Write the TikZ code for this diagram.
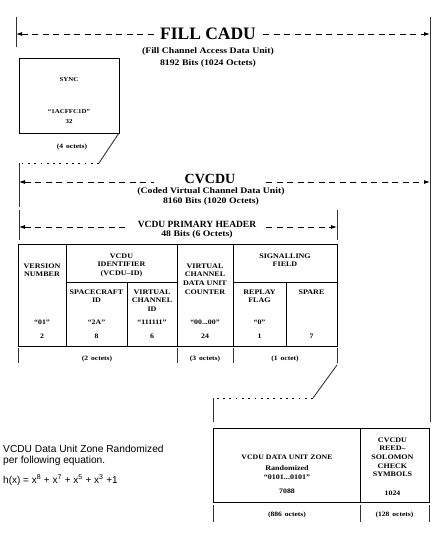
\documentclass[tikz,border=0pt]{standalone}
\usepackage{fontspec}
\setmainfont{Liberation Serif}
\newfontfamily\widefont[FakeStretch=1.15]{Liberation Serif}
\newfontfamily\arialfont{Liberation Sans}
\usetikzlibrary{arrows.meta}
\newcommand{\fsz}[1]{\fontsize{#1}{#1}\selectfont}
\newcommand{\octs}[1]{(#1\hspace{0.45em}octets)}
\begin{document}
\begin{tikzpicture}[x=1pt,y=-1pt,
  txt/.style={font=\widefont\bfseries\fsz{6.8}, align=center, inner sep=0pt, text depth=0pt},
  cell/.style={txt, font=\widefont\bfseries\fontsize{7}{8.6}\selectfont},
  octl/.style={txt, font=\widefont\bfseries\fsz{6.6}},
  sub/.style={txt, font=\widefont\bfseries\fsz{8.5}},
  box/.style={draw, line width=0.9pt},
  bar/.style={line width=0.9pt, black!80},
  dimline/.style={dash pattern=on 6pt off 4.5pt, line width=0.8pt,
    {Latex[length=6pt,width=4pt]}-{Latex[length=6pt,width=4pt]}},
  dotline/.style={line width=0.8pt, dash pattern=on 1.8pt off 4.5pt},
  gap/.style={fill=white, inner ysep=1pt}
]
\useasboundingbox (0,0) rectangle (437,536);

% ---------- FILL CADU ----------
\coordinate (fcL) at (16,34);
\coordinate (fcR) at (430,34);
\draw[bar] (16,17) -- (16,47);
\draw[bar] (430,17) -- (430,422);
\draw[dimline] (fcL) -- (fcR);
\node[gap, inner xsep=5pt, font=\fsz{17.5}\bfseries] (fillcadu) at (208,34) {FILL CADU};
\node[sub] (fillsub) at (208,51) {(Fill Channel Access Data Unit)};
\node[sub] (fillbits) at (208,63) {8192 Bits (1024 Octets)};

% ---------- SYNC ----------
\draw[box] (19,58) rectangle (119,133);
\node[txt, font=\widefont\bfseries\fsz{6}] (sync) at (69,80) {SYNC};
\node[txt, font=\widefont\bfseries\fsz{6}] (syncval) at (69,112) {“1ACFFC1D”};
\node[txt, font=\widefont\bfseries\fsz{6}] (syncbits) at (69,122) {32};
\node[octl] (syncoct) at (72,146) {\octs{4}};
\coordinate (s1) at (119,133);
\coordinate (s2) at (99,163);
\coordinate (s3) at (21,163);
\draw[bar] (s1) -- (s2);
\draw[dotline] (s2) -- (s3);

% ---------- CVCDU ----------
\draw[bar] (19,163) -- (19,207);
\coordinate (cvL) at (19,182);
\coordinate (cvR) at (430,182);
\draw[dimline] (cvL) -- (cvR);
\node[gap, font=\fsz{14}\bfseries, inner xsep=31pt] (cvcdu) at (210,179) {CVCDU};
\node[sub] (cvsub) at (211,191) {(Coded Virtual Channel Data Unit)};
\node[sub] (cvbits) at (211,201) {8160 Bits (1020 Octets)};

% ---------- VCDU PRIMARY HEADER ----------
\draw[bar] (19,210) -- (19,240);
\draw[bar] (337,210) -- (337,240);
\coordinate (phL) at (19,227);
\coordinate (phR) at (337,227);
\draw[dimline] (phL) -- (phR);
\node[gap, inner xsep=8pt, font=\fsz{9.5}\bfseries] (phdr) at (197,224) {VCDU PRIMARY HEADER};
\node[sub] (phbits) at (197,234) {48 Bits (6 Octets)};

% ---------- table ----------
\draw[box] (18,244) rectangle (337,346);
\draw[box] (66,244) -- (66,346);
\draw[box] (177,244) -- (177,346);
\draw[box] (233,244) -- (233,346);
\draw[box] (66,282) -- (177,282);
\draw[box] (233,282) -- (337,282);
\draw[box] (127,282) -- (127,346);
\draw[box] (286,282) -- (286,346);

\node[cell, anchor=north] (ver) at (42,263.5) {VERSION\\NUMBER};
\node[cell, anchor=north] (vcid) at (121.5,253.5) {VCDU\\IDENTIFIER\\(VCDU–ID)};
\node[cell, anchor=north] (scid) at (96.5,289.5) {SPACECRAFT\\ID};
\node[cell, anchor=north] (vchid) at (152,289.5) {VIRTUAL\\CHANNEL\\ID};
\node[cell, anchor=north] (vcdc) at (205,263.5) {VIRTUAL\\CHANNEL\\DATA UNIT\\COUNTER};
\node[cell, anchor=north] (sig) at (285,253.5) {SIGNALLING\\FIELD};
\node[cell, anchor=north] (rf) at (259.5,289.5) {REPLAY\\FLAG};
\node[cell, anchor=north] (spare) at (311.5,289.5) {SPARE};

\node[txt] (v1) at (42,322) {“01”};
\node[txt] (v2) at (96.5,322) {“2A”};
\node[txt] (v3) at (152,322) {“111111”};
\node[txt] (v4) at (205,322) {“00...00”};
\node[txt] (v5) at (259.5,322) {“0”};

\node[txt] (n1) at (42,336) {2};
\node[txt] (n2) at (96.5,336) {8};
\node[txt] (n3) at (152,336) {6};
\node[txt] (n4) at (205,336) {24};
\node[txt] (n5) at (259.5,336) {1};
\node[txt] (n6) at (311.5,336) {7};

\foreach \xx in {18,177,233,337} \draw[bar] (\xx,348) -- (\xx,363);
\node[octl] (o1) at (97,358) {\octs{2}};
\node[octl] (o2) at (205,358) {\octs{3}};
\node[octl] (o3) at (285,358) {(1\hspace{0.45em}octet)};

\coordinate (t1) at (337,365);
\coordinate (t2) at (313,398);
\coordinate (t3) at (214,398);
\draw[bar] (t1) -- (t2);
\draw[dotline] (t2) -- (t3);
\draw[bar] (213,398) -- (213,422);

% ---------- data zone ----------
\draw[box] (213,428) rectangle (429,502);
\draw[box] (360,428) -- (360,502);
\node[txt] (dz) at (287,457) {VCDU DATA UNIT ZONE};
\node[cell, anchor=north] (rnd) at (287,465.5) {Randomized\\“0101...0101”};
\node[txt] (dzb) at (287,491) {7088};
\node[cell, anchor=north] (rs) at (392.5,437.5) {CVCDU\\REED–\\SOLOMON\\CHECK\\SYMBOLS};
\node[txt] (rsb) at (392.5,493) {1024};
\foreach \xx in {213,360,429} \draw[bar] (\xx,505) -- (\xx,522);
\node[octl] (o4) at (287,514) {\octs{886}};
\node[octl] (o5) at (394.5,514) {\octs{128}};

% ---------- note ----------
\node[anchor=west, inner sep=0pt, font=\arialfont\fontsize{10.2}{10.5}\selectfont, align=left] (note) at (3,455.5) {VCDU Data Unit Zone Randomized\\per following equation.};
\node[anchor=west, inner sep=0pt, font=\arialfont\fontsize{10}{11}\selectfont] (eq) at (3,480) {h(x) = x\textsuperscript{8} + x\textsuperscript{7} + x\textsuperscript{5} + x\textsuperscript{3} +1};
\end{tikzpicture}
\end{document}
